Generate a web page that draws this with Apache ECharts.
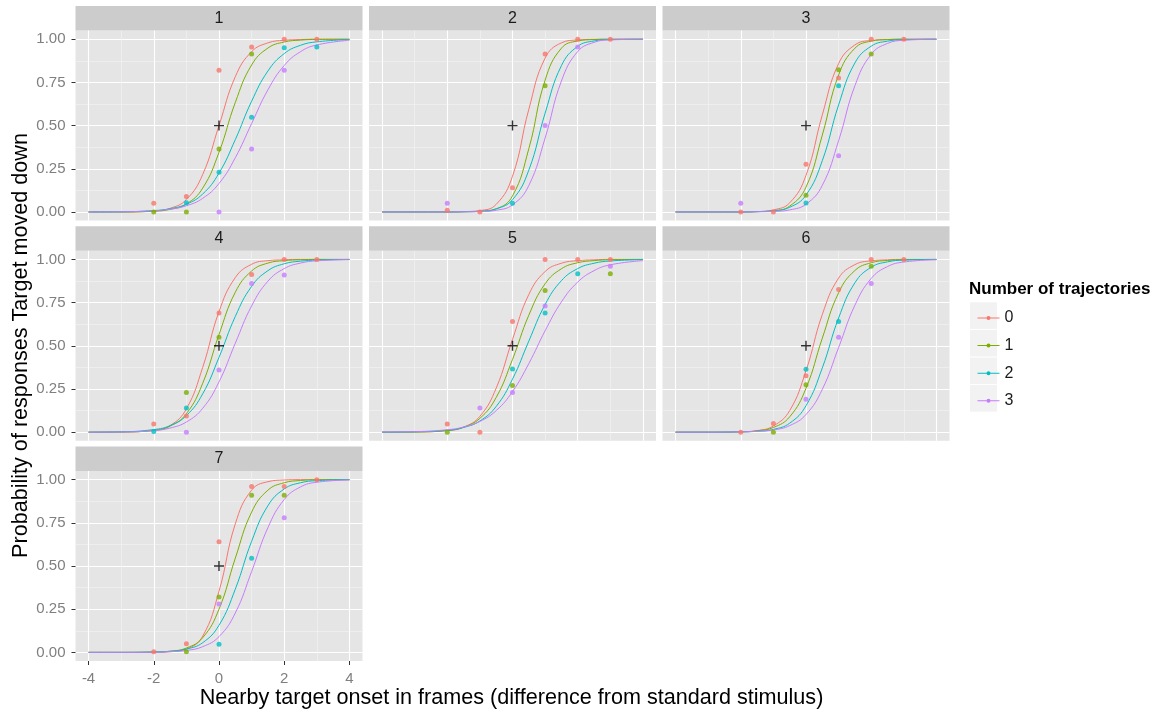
<!DOCTYPE html>
<html><head><meta charset="utf-8">
<script src="https://cdn.jsdelivr.net/npm/echarts@6/dist/echarts.min.js"></script>
<style>html,body{margin:0;padding:0;background:#fff}#c{width:1168px;height:713px}</style>
</head><body><div id="c"></div>
<script>
// ---------- data ----------
const panelLabels = ['1','2','3','4','5','6','7'];
const groupNames = ['0','1','2','3'];
const xTicks = [-4,-2,0,2,4];
const xMinor = [-3,-1,1,3];
const yTicks = [0,0.25,0.5,0.75,1];
const yMinor = [0.125,0.375,0.625,0.875];
const refPoint = [0, 0.5];

// fitted curves, read at these x positions (rows: groups 0,1,2,3)
const curveX = [-4,-3,-2,-1.5,-1,-0.5,0,0.5,1,1.5,2,2.5,3,4];
const fit1 = [
  [0,0,0.006,0.021,0.072,0.217,0.5,0.783,0.928,0.979,0.994,0.998,1,1],
  [0,0,0.004,0.015,0.046,0.138,0.345,0.634,0.851,0.949,0.984,0.995,0.999,1],
  [0,0.001,0.008,0.019,0.045,0.104,0.225,0.419,0.641,0.816,0.917,0.965,0.985,0.998],
  [0,0.001,0.007,0.016,0.036,0.079,0.165,0.314,0.512,0.707,0.848,0.928,0.967,0.994]
];
const fit2 = [
  [0,0,0,0.002,0.008,0.044,0.207,0.594,0.891,0.979,0.996,0.999,1,1],
  [0,0,0,0.001,0.004,0.018,0.093,0.366,0.763,0.948,0.99,0.998,1,1],
  [0,0,0,0.001,0.004,0.018,0.071,0.242,0.572,0.847,0.959,0.99,0.998,1],
  [0,0,0,0.001,0.002,0.01,0.041,0.153,0.428,0.758,0.929,0.982,0.996,1]
];
const fit3 = [
  [0,0,0,0.002,0.012,0.053,0.212,0.562,0.859,0.967,0.993,0.998,1,1],
  [0,0,0,0.002,0.007,0.034,0.144,0.445,0.793,0.948,0.989,0.998,1,1],
  [0,0,0,0.002,0.007,0.027,0.098,0.297,0.62,0.863,0.96,0.989,0.997,1],
  [0,0,0,0.001,0.003,0.012,0.045,0.154,0.413,0.731,0.913,0.976,0.994,1]
];
const fit4 = [
  [0,0.001,0.01,0.038,0.135,0.375,0.698,0.895,0.972,0.993,0.998,1,1,1],
  [0,0.001,0.011,0.035,0.107,0.283,0.565,0.81,0.933,0.979,0.993,0.998,1,1],
  [0,0.002,0.015,0.038,0.096,0.222,0.433,0.67,0.844,0.935,0.975,0.99,0.996,1],
  [0,0.001,0.009,0.024,0.059,0.138,0.291,0.515,0.731,0.874,0.947,0.979,0.992,0.999]
];
const fit5 = [
  [0,0.001,0.009,0.029,0.092,0.255,0.537,0.797,0.93,0.978,0.993,0.998,1,1],
  [0,0.001,0.01,0.029,0.08,0.201,0.421,0.677,0.859,0.946,0.981,0.993,0.998,1],
  [0,0.002,0.011,0.027,0.065,0.149,0.307,0.527,0.739,0.877,0.947,0.978,0.991,0.999],
  [0.001,0.003,0.014,0.03,0.062,0.125,0.235,0.397,0.587,0.754,0.869,0.935,0.969,0.993]
];
const fit6 = [
  [0,0,0.002,0.009,0.036,0.125,0.356,0.681,0.892,0.97,0.992,0.998,1,1],
  [0,0,0.002,0.008,0.027,0.089,0.254,0.544,0.807,0.936,0.981,0.994,0.998,1],
  [0,0,0.002,0.005,0.016,0.052,0.153,0.372,0.661,0.865,0.955,0.986,0.996,1],
  [0,0,0.002,0.005,0.013,0.038,0.102,0.248,0.49,0.735,0.89,0.959,0.985,0.998]
];
const fit7 = [
  [0,0,0.001,0.004,0.019,0.094,0.354,0.744,0.939,0.988,0.998,1,1,1],
  [0,0,0.002,0.007,0.025,0.085,0.25,0.545,0.812,0.939,0.982,0.995,0.999,1],
  [0,0,0.002,0.006,0.019,0.056,0.157,0.366,0.643,0.849,0.946,0.982,0.994,1],
  [0,0,0.001,0.004,0.011,0.033,0.091,0.228,0.468,0.722,0.885,0.958,0.985,0.998]
];

// observed proportions at these x positions (rows: groups 0,1,2,3)
const obsX = [-2,-1,0,1,2,3];
const obs1 = [
  [0.05,0.09,0.82,0.955,1.0,1.0],
  [0.0,0.0,0.365,0.915,null,null],
  [null,0.054,0.23,0.548,0.95,0.955],
  [null,null,0.0,0.365,0.82,null]
];
const obs2 = [
  [0.01,0.0,0.14,0.915,1.0,1.0],
  [null,null,null,0.73,null,null],
  [null,null,0.05,null,null,null],
  [0.05,null,null,0.5,0.955,null]
];
const obs3 = [
  [0.0,0.0,0.276,0.776,1.0,1.0],
  [null,null,0.097,0.824,0.915,null],
  [null,null,0.052,0.73,null,null],
  [0.05,null,null,0.326,null,null]
];
const obs4 = [
  [0.047,0.093,0.69,0.913,1.0,1.0],
  [null,0.23,0.55,null,null,null],
  [0.004,0.14,null,null,null,null],
  [null,0.0,0.36,0.86,0.91,null]
];
const obs5 = [
  [0.047,0.0,0.64,1.0,1.0,1.0],
  [0.0,null,0.27,0.82,null,0.917],
  [null,null,0.366,0.69,0.917,null],
  [null,0.14,0.23,0.73,null,0.96]
];
const obs6 = [
  [0.0,0.05,0.326,0.826,1.0,1.0],
  [null,0.0,0.275,null,0.96,null],
  [null,null,0.364,0.64,null,null],
  [null,null,0.19,0.55,0.86,null]
];
const obs7 = [
  [0.004,0.05,0.64,0.96,0.96,1.0],
  [null,0.004,0.32,0.91,0.91,null],
  [null,null,0.047,0.545,null,null],
  [null,null,0.28,null,0.78,null]
];

// ---------- styling / layout ----------
const fits = [fit1,fit2,fit3,fit4,fit5,fit6,fit7];
const obs = [obs1,obs2,obs3,obs4,obs5,obs6,obs7];
const colors = ['#F8766D','#7CAE00','#00BFC4','#C77CFF'];
const FONT = "'Liberation Sans', Arial, sans-serif";
const colLeft = [75.5, 369, 662.5];
const rowTop = [30.6, 250.8, 471];
const PW = 287, PH = 190, STRIP = 24.5;
const PLUS = 'path://M4.3,0H5.7V4.3H10V5.7H5.7V10H4.3V5.7H0V4.3H4.3Z';
const KEYICON = 'path://M0,2.5H9.2V3.5H0Z M12.8,2.5H22V3.5H12.8Z M13,3A2,2 0 1 1 9,3A2,2 0 1 1 13,3Z';

const grids = [], xAxes = [], yAxes = [], series = [], graphics = [];
const n = panelLabels.length;
// minor axes first (drawn underneath)
for (let p = 0; p < n; p++) {
  const r = Math.floor(p/3), c = p%3;
  grids.push({left: colLeft[c], top: rowTop[r], width: PW, height: PH, show: true,
    backgroundColor: '#E5E5E5', borderWidth: 0, containLabel: false});
  xAxes.push({type:'value', gridIndex:p, min:-4.4, max:4.4, position:'bottom',
    axisLine:{show:false, onZero:false}, axisTick:{show:false, customValues:xMinor},
    axisLabel:{show:false, customValues:xMinor},
    splitLine:{show:true, lineStyle:{color:'#F2F2F2', width:0.7}}});
  yAxes.push({type:'value', gridIndex:p, min:-0.05, max:1.05, position:'left',
    axisLine:{show:false, onZero:false}, axisTick:{show:false, customValues:yMinor},
    axisLabel:{show:false, customValues:yMinor},
    splitLine:{show:true, lineStyle:{color:'#F2F2F2', width:0.7}}});
}
for (let p = 0; p < n; p++) {
  const r = Math.floor(p/3), c = p%3;
  const showX = (p === 6), showY = (c === 0);
  xAxes.push({type:'value', gridIndex:p, min:-4.4, max:4.4, position:'bottom',
    axisLine:{show:false, onZero:false},
    axisTick:{show:showX, customValues:xTicks, length:4, lineStyle:{color:'#333333', width:1}},
    axisLabel:{show:showX, customValues:xTicks, color:'#7F7F7F', fontSize:15, fontFamily:FONT, margin:10},
    splitLine:{show:true, lineStyle:{color:'#FFFFFF', width:1.1}}});
  yAxes.push({type:'value', gridIndex:p, min:-0.05, max:1.05, position:'left',
    axisLine:{show:false, onZero:false},
    axisTick:{show:showY, customValues:yTicks, length:4, lineStyle:{color:'#333333', width:1}},
    axisLabel:{show:showY, customValues:yTicks, color:'#7F7F7F', fontSize:15, fontFamily:FONT, margin:10,
      formatter: v => Number(v).toFixed(2)},
    splitLine:{show:true, lineStyle:{color:'#FFFFFF', width:1.1}}});
  // strip
  graphics.push({type:'rect', shape:{x:colLeft[c], y:rowTop[r]-STRIP, width:PW, height:STRIP},
    style:{fill:'#CCCCCC'}, silent:true});
  graphics.push({type:'text', x:colLeft[c]+PW/2, y:rowTop[r]-STRIP/2, silent:true,
    style:{text:panelLabels[p], fill:'#1A1A1A', font:'16px '+FONT, textAlign:'center', textVerticalAlign:'middle'}});
  const ax = n + p;
  for (let g = 0; g < groupNames.length; g++) {
    series.push({type:'line', name:groupNames[g], xAxisIndex:ax, yAxisIndex:ax,
      data: curveX.map((x,i)=>[x, fits[p][g][i]]),
      showSymbol:false, symbol:'circle', smooth:0.45,
      lineStyle:{color:colors[g], width:1}, itemStyle:{color:colors[g]}, z:2, silent:true});
  }
  for (let g = 0; g < groupNames.length; g++) {
    const pts = [];
    obsX.forEach((x,i)=>{ const v = obs[p][g][i]; if (v !== null) pts.push([x, v]); });
    series.push({type:'scatter', name:groupNames[g], xAxisIndex:ax, yAxisIndex:ax,
      data: pts, symbol:'circle', symbolSize:5, itemStyle:{color:colors[g]}, z:3});
  }
  series.push({type:'scatter', name:'ref', xAxisIndex:ax, yAxisIndex:ax, data:[refPoint],
    symbol:PLUS, symbolSize:10, itemStyle:{color:'#000000'}, z:4});
}

// legend key backgrounds and title
for (let i = 0; i < groupNames.length; i++) {
  graphics.push({type:'rect', shape:{x:970, y:302.3 + i*27.6, width:27, height:26.6},
    style:{fill:'#F2F2F2'}, silent:true});
}
graphics.push({type:'text', x:969, y:289, silent:true,
  style:{text:'Number of trajectories', fill:'#000', font:'bold 17px '+FONT, textAlign:'left', textVerticalAlign:'middle'}});
// axis titles
graphics.push({type:'text', x:511.5, y:698, silent:true,
  style:{text:'Nearby target onset in frames (difference from standard stimulus)', fill:'#000',
    font:'21.6px '+FONT, textAlign:'center', textVerticalAlign:'middle'}});
graphics.push({type:'text', x:21, y:345.5, rotation:Math.PI/2, silent:true,
  style:{text:'Probability of responses Target moved down', fill:'#000',
    font:'21.6px '+FONT, textAlign:'center', textVerticalAlign:'middle'}});

const option = {
  animation:false,
  backgroundColor:'#FFFFFF',
  grid: grids, xAxis: xAxes, yAxis: yAxes, series: series,
  graphic: {elements: graphics},
  legend: {orient:'vertical', left:972.5, top:305, itemWidth:22, itemHeight:4, itemGap:11.6,
    selectedMode:false,
    textStyle:{fontSize:16, color:'#1A1A1A', fontFamily:FONT},
    data: groupNames.map(nm => ({name:nm, icon:KEYICON}))}
};
const chart = echarts.init(document.getElementById('c'), null, {renderer:'canvas'});
chart.setOption(option);
</script></body></html>
